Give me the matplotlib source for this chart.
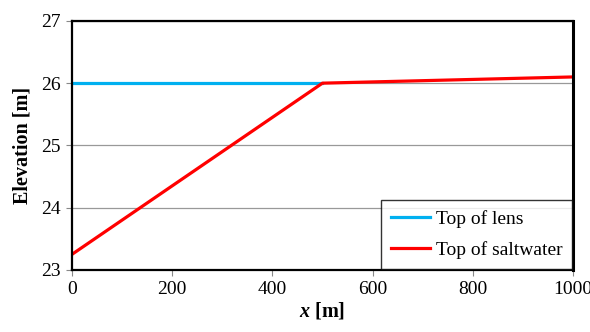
import matplotlib
matplotlib.use('Agg')
import matplotlib.pyplot as plt

plt.rcParams['font.family'] = ['Liberation Serif', 'DejaVu Serif']
plt.rcParams['mathtext.fontset'] = 'custom'
plt.rcParams['mathtext.it'] = 'Liberation Serif:italic:bold'
plt.rcParams['mathtext.rm'] = 'Liberation Serif:bold'

lens_x = [0, 500]
lens_y = [26.0, 26.0]
salt_x = [0, 500, 1000]
salt_y = [23.25, 26.0, 26.1]

fig = plt.figure(figsize=(5.9, 3.32), dpi=100)
ax = fig.add_axes([0.122, 0.187, 0.849, 0.75])

ax.plot(lens_x, lens_y, color='#00B0F0', lw=2.3, label='Top of lens')
ax.plot(salt_x, salt_y, color='#FF0000', lw=2.3, label='Top of saltwater')

ax.set_xlim(0, 1000)
ax.set_ylim(23, 27)
ax.set_xticks(range(0, 1001, 200))
ax.set_yticks(range(23, 28))
ax.yaxis.grid(True, color='#999999', lw=0.9)
ax.set_axisbelow(True)
for s in ax.spines.values():
    s.set_color('black')
    s.set_linewidth(1.6)
ax.spines['right'].set_linewidth(2.2)
ax.tick_params(direction='out', length=4, color='#888888', labelsize=14, pad=4)

ax.set_xlabel(r'$x$ [m]', fontsize=14.5, fontweight='bold', labelpad=2)
ax.set_ylabel('Elevation [m]', fontsize=14.5, fontweight='bold', labelpad=6)

leg = ax.legend(loc='lower right', fontsize=14, frameon=True, fancybox=False,
                edgecolor='black', borderaxespad=0.05, handlelength=2.0,
                borderpad=0.5, labelspacing=0.7, handletextpad=0.3)
leg.get_frame().set_linewidth(1.0)

fig.savefig('out.png', dpi=100)
